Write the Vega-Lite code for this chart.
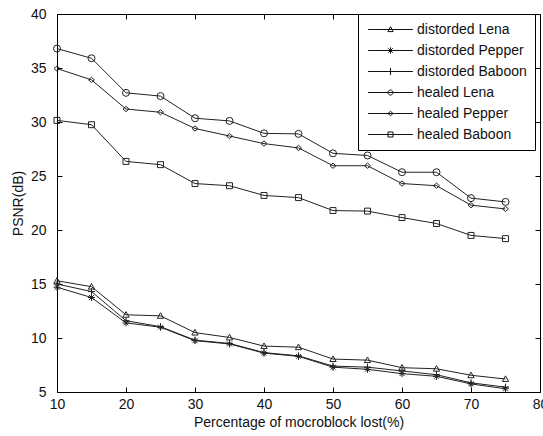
{
  "$schema": "https://vega.github.io/schema/vega-lite/v6.json",
  "width": 483,
  "height": 378,
  "autosize": {"type": "none"},
  "padding": {"left": 57, "top": 14, "right": 3, "bottom": 44},
  "background": "white",
  "config": {
    "view": {"stroke": "black", "strokeWidth": 1},
    "font": "Liberation Sans",
    "axis": {
      "grid": false,
      "domain": false,
      "tickColor": "black",
      "tickSize": -5,
      "labelFont": "Liberation Sans",
      "labelFontSize": 14,
      "labelColor": "#111",
      "labelFlush": false,
      "labelOverlap": false,
      "titleFont": "Liberation Sans",
      "titleFontSize": 14,
      "titleFontWeight": "normal",
      "titleColor": "#111"
    }
  },
  "data": {
    "values": [
      {"x": 10, "series": "distorded Lena", "v": 15.3},
      {"x": 15, "series": "distorded Lena", "v": 14.75},
      {"x": 20, "series": "distorded Lena", "v": 12.15},
      {"x": 25, "series": "distorded Lena", "v": 12.05},
      {"x": 30, "series": "distorded Lena", "v": 10.5},
      {"x": 35, "series": "distorded Lena", "v": 10.05},
      {"x": 40, "series": "distorded Lena", "v": 9.25},
      {"x": 45, "series": "distorded Lena", "v": 9.15},
      {"x": 50, "series": "distorded Lena", "v": 8.05},
      {"x": 55, "series": "distorded Lena", "v": 7.95},
      {"x": 60, "series": "distorded Lena", "v": 7.25},
      {"x": 65, "series": "distorded Lena", "v": 7.15},
      {"x": 70, "series": "distorded Lena", "v": 6.55},
      {"x": 75, "series": "distorded Lena", "v": 6.2},
      {"x": 10, "series": "distorded Pepper", "v": 14.7},
      {"x": 15, "series": "distorded Pepper", "v": 13.75},
      {"x": 20, "series": "distorded Pepper", "v": 11.4},
      {"x": 25, "series": "distorded Pepper", "v": 11.0},
      {"x": 30, "series": "distorded Pepper", "v": 9.75},
      {"x": 35, "series": "distorded Pepper", "v": 9.45},
      {"x": 40, "series": "distorded Pepper", "v": 8.6},
      {"x": 45, "series": "distorded Pepper", "v": 8.3},
      {"x": 50, "series": "distorded Pepper", "v": 7.3},
      {"x": 55, "series": "distorded Pepper", "v": 7.1},
      {"x": 60, "series": "distorded Pepper", "v": 6.7},
      {"x": 65, "series": "distorded Pepper", "v": 6.45},
      {"x": 70, "series": "distorded Pepper", "v": 5.75},
      {"x": 75, "series": "distorded Pepper", "v": 5.3},
      {"x": 10, "series": "distorded Baboon", "v": 15.0},
      {"x": 15, "series": "distorded Baboon", "v": 14.3},
      {"x": 20, "series": "distorded Baboon", "v": 11.6},
      {"x": 25, "series": "distorded Baboon", "v": 11.05},
      {"x": 30, "series": "distorded Baboon", "v": 9.8},
      {"x": 35, "series": "distorded Baboon", "v": 9.5},
      {"x": 40, "series": "distorded Baboon", "v": 8.65},
      {"x": 45, "series": "distorded Baboon", "v": 8.35},
      {"x": 50, "series": "distorded Baboon", "v": 7.4},
      {"x": 55, "series": "distorded Baboon", "v": 7.3},
      {"x": 60, "series": "distorded Baboon", "v": 6.95},
      {"x": 65, "series": "distorded Baboon", "v": 6.6},
      {"x": 70, "series": "distorded Baboon", "v": 5.85},
      {"x": 75, "series": "distorded Baboon", "v": 5.45},
      {"x": 10, "series": "healed Lena", "v": 36.8},
      {"x": 15, "series": "healed Lena", "v": 35.9},
      {"x": 20, "series": "healed Lena", "v": 32.7},
      {"x": 25, "series": "healed Lena", "v": 32.4},
      {"x": 30, "series": "healed Lena", "v": 30.35},
      {"x": 35, "series": "healed Lena", "v": 30.1},
      {"x": 40, "series": "healed Lena", "v": 28.95},
      {"x": 45, "series": "healed Lena", "v": 28.9},
      {"x": 50, "series": "healed Lena", "v": 27.1},
      {"x": 55, "series": "healed Lena", "v": 26.9},
      {"x": 60, "series": "healed Lena", "v": 25.35},
      {"x": 65, "series": "healed Lena", "v": 25.35},
      {"x": 70, "series": "healed Lena", "v": 22.95},
      {"x": 75, "series": "healed Lena", "v": 22.6},
      {"x": 10, "series": "healed Pepper", "v": 34.95},
      {"x": 15, "series": "healed Pepper", "v": 33.9},
      {"x": 20, "series": "healed Pepper", "v": 31.2},
      {"x": 25, "series": "healed Pepper", "v": 30.9},
      {"x": 30, "series": "healed Pepper", "v": 29.4},
      {"x": 35, "series": "healed Pepper", "v": 28.7},
      {"x": 40, "series": "healed Pepper", "v": 28.0},
      {"x": 45, "series": "healed Pepper", "v": 27.6},
      {"x": 50, "series": "healed Pepper", "v": 25.95},
      {"x": 55, "series": "healed Pepper", "v": 25.95},
      {"x": 60, "series": "healed Pepper", "v": 24.3},
      {"x": 65, "series": "healed Pepper", "v": 24.1},
      {"x": 70, "series": "healed Pepper", "v": 22.3},
      {"x": 75, "series": "healed Pepper", "v": 21.95},
      {"x": 10, "series": "healed Baboon", "v": 30.15},
      {"x": 15, "series": "healed Baboon", "v": 29.75},
      {"x": 20, "series": "healed Baboon", "v": 26.35},
      {"x": 25, "series": "healed Baboon", "v": 26.05},
      {"x": 30, "series": "healed Baboon", "v": 24.3},
      {"x": 35, "series": "healed Baboon", "v": 24.1},
      {"x": 40, "series": "healed Baboon", "v": 23.2},
      {"x": 45, "series": "healed Baboon", "v": 23.0},
      {"x": 50, "series": "healed Baboon", "v": 21.8},
      {"x": 55, "series": "healed Baboon", "v": 21.75},
      {"x": 60, "series": "healed Baboon", "v": 21.15},
      {"x": 65, "series": "healed Baboon", "v": 20.6},
      {"x": 70, "series": "healed Baboon", "v": 19.5},
      {"x": 75, "series": "healed Baboon", "v": 19.2}
    ]
  },
  "layer": [
    {
      "mark": {"type": "line", "color": "#222", "strokeWidth": 1},
      "encoding": {
        "x": {"field": "x", "type": "quantitative", "scale": {"domain": [10, 80], "nice": false},
              "axis": {"values": [10, 20, 30, 40, 50, 60, 70, 80], "title": "Percentage of mocroblock lost(%)", "labelPadding": 10, "titlePadding": 4}},
        "y": {"field": "v", "type": "quantitative", "scale": {"domain": [5, 40], "nice": false, "zero": false},
              "axis": {"values": [5, 10, 15, 20, 25, 30, 35, 40], "title": "PSNR(dB)", "labelPadding": 16, "titlePadding": 5}},
        "detail": {"field": "series"}
      }
    },
    {
      "mark": {"type": "point", "filled": false, "color": "#222", "size": 49, "strokeWidth": 1, "opacity": 1},
      "encoding": {
        "x": {"field": "x", "type": "quantitative", "axis": null},
        "y": {"field": "v", "type": "quantitative", "axis": null},
        "shape": {
          "field": "series",
          "type": "nominal",
          "scale": {
            "domain": ["distorded Lena", "distorded Pepper", "distorded Baboon", "healed Lena", "healed Pepper", "healed Baboon"],
            "range": [
              "M0,-0.9L0.9,0.7L-0.9,0.7Z",
              "M-1,0L1,0M0,-1L0,1M-0.7,-0.7L0.7,0.7M-0.7,0.7L0.7,-0.7",
              "M-1,0L1,0M0,-1L0,1",
              "circle",
              "M-0.85,0L0,-0.75L0.85,0L0,0.75Z",
              "M-0.85,-0.85L0.85,-0.85L0.85,0.85L-0.85,0.85Z"
            ]
          },
          "legend": null
        }
      }
    },
    {
      "mark": {"type": "point", "filled": false, "color": "#222", "opacity": 0},
      "encoding": {
        "x": {"field": "x", "type": "quantitative",
              "axis": {"orient": "top", "values": [10, 20, 30, 40, 50, 60, 70, 80], "labels": false, "title": null}},
        "y": {"field": "v", "type": "quantitative",
              "axis": {"orient": "right", "values": [5, 10, 15, 20, 25, 30, 35, 40], "labels": false, "title": null}},
        "shape": {
          "field": "series",
          "type": "nominal",
          "scale": {
            "domain": ["distorded Lena", "distorded Pepper", "distorded Baboon", "healed Lena", "healed Pepper", "healed Baboon"],
            "range": [
              "M-3.2,0L3.2,0M0,-0.4L0.38,0.3L-0.38,0.3Z",
              "M-3.2,0L3.2,0M0,-0.45L0,0.45M-0.32,-0.32L0.32,0.32M-0.32,0.32L0.32,-0.32",
              "M-3.2,0L3.2,0M0,-0.5L0,0.5",
              "M-3.2,0L3.2,0M-0.36,0A0.36,0.36 0 1,0 0.36,0A0.36,0.36 0 1,0 -0.36,0",
              "M-3.2,0L3.2,0M-0.36,0L0,-0.32L0.36,0L0,0.32Z",
              "M-3.2,0L3.2,0M-0.36,-0.36L0.36,-0.36L0.36,0.36L-0.36,0.36Z"
            ]
          },
          "legend": {
            "orient": "none",
            "legendX": 301,
            "legendY": 0,
            "title": null,
            "strokeColor": "black",
            "fillColor": "white",
            "padding": 8,
            "labelFont": "Liberation Sans",
            "labelFontSize": 14,
            "labelColor": "#111",
            "labelOffset": 19,
            "symbolOffset": 17,
            "symbolSize": 196,
            "symbolOpacity": 1,
            "symbolFillColor": "transparent",
            "symbolStrokeColor": "#111",
            "symbolStrokeWidth": 1,
            "rowPadding": 6
          }
        }
      }
    }
  ],
  "resolve": {
    "scale": {"shape": "independent"},
    "axis": {"x": "independent", "y": "independent"}
  }
}
